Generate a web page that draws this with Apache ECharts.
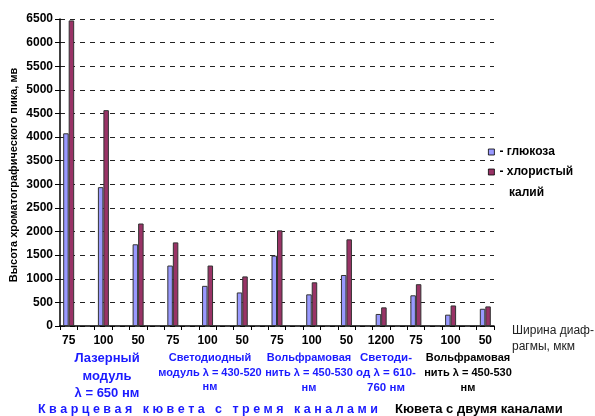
<!DOCTYPE html>
<html>
<head>
<meta charset="utf-8">
<script src="https://cdn.jsdelivr.net/npm/echarts@6/dist/echarts.min.js"></script>
<style>
html,body{margin:0;padding:0;background:#fff;}
#c{width:595px;height:416px;}
</style>
</head>
<body>
<div id="c"></div>
<script>
// Diaphragm widths (µm) for each measured configuration
var widths = ['75','100','50','75','100','50','75','100','50','1200','75','100','50'];
// Peak heights, mV
var glucose = [4080, 2940, 1730, 1280, 850, 710, 1490, 670, 1080, 255, 650, 240, 365];
var kcl     = [6470, 4570, 2170, 1770, 1280, 1050, 2025, 925, 1835, 395, 885, 435, 415];
var yTicks = {min: 0, max: 6500, interval: 500};

// Axis has a blank category between each measured one
var cats = [], gData = [], kData = [];
for (var i = 0; i < widths.length; i++) {
  cats.push(widths[i]); gData.push(glucose[i]); kData.push(kcl[i]);
  if (i < widths.length - 1) { cats.push(' '); gData.push('-'); kData.push('-'); }
}

var FF = '"Liberation Sans", Arial, sans-serif';
var BLUE = '#1a1aff';

var chart = echarts.init(document.getElementById('c'), null, {renderer: 'canvas'});
chart.setOption({
  animation: false,
  backgroundColor: '#fff',
  grid: {left: 60, right: 101, top: 19, bottom: 90, containLabel: false, outerBoundsMode: 'none'},
  legend: {
    orient: 'vertical', left: 483, top: 141,
    itemWidth: 6, itemHeight: 6, itemGap: 8,
    icon: 'rect',
    itemStyle: {borderColor: '#000', borderWidth: 0.8},
    textStyle: {fontFamily: FF, fontWeight: 'bold', fontSize: 12, color: '#000'},
    formatter: function (n) { return n === 'хлористый калий' ? '- хлористый' : '- ' + n; },
    selectedMode: false
  },
  xAxis: {
    type: 'category', data: cats, boundaryGap: true,
    axisLine: {lineStyle: {color: '#000', width: 1.5}},
    axisTick: {show: true, interval: 0, length: 4, lineStyle: {color: '#000', width: 1}},
    axisLabel: {interval: 0, margin: 9, fontFamily: FF, fontWeight: 'bold', fontSize: 12, color: '#000'},
    splitLine: {show: false}
  },
  yAxis: {
    type: 'value', min: yTicks.min, max: yTicks.max, interval: yTicks.interval,
    axisLine: {show: true, lineStyle: {color: '#000', width: 1.5}},
    axisTick: {show: true, length: 5, lineStyle: {color: '#000'}},
    axisLabel: {margin: 7, fontFamily: FF, fontWeight: 'bold', fontSize: 12, color: '#000',
                formatter: function (v) { return String(v); }},
    splitLine: {show: true, lineStyle: {color: '#222', width: 1, type: [5, 5]}}
  },
  series: [
    {name: 'глюкоза', type: 'bar', data: gData, barWidth: 5.5, barGap: '0%',
     itemStyle: {color: '#9999ff', borderColor: '#333', borderWidth: 1}},
    {name: 'хлористый калий', type: 'bar', data: kData, barWidth: 5.5, barGap: '0%',
     itemStyle: {color: '#993366', borderColor: '#333', borderWidth: 1}}
  ],
  graphic: [
    {type: 'text', x: 14, y: 175, rotation: Math.PI / 2,
     style: {text: 'Высота хроматографического пика, мв', font: 'bold 11px ' + FF, fill: '#000', align: 'center', verticalAlign: 'middle'}},
    {type: 'text', left: 509, top: 187, style: {text: 'калий', font: 'bold 12px ' + FF, fill: '#000'}},
    {type: 'text', left: 512, top: 323, style: {text: 'Ширина диаф-\nрагмы, мкм', font: '12px ' + FF, fill: '#222', lineHeight: 16}},
    {type: 'text', x: 107, y: 350, style: {text: 'Лазерный\nмодуль\nλ = 650 нм', font: 'bold 13px ' + FF, fill: BLUE, align: 'center', lineHeight: 17.5}},
    {type: 'text', x: 210, y: 351, style: {text: 'Светодиодный\nмодуль λ = 430-520\nнм', font: 'bold 11px ' + FF, fill: BLUE, align: 'center', lineHeight: 14.5}},
    {type: 'text', x: 309, y: 350, style: {text: 'Вольфрамовая\nнить λ = 450-530\nнм', font: 'bold 11px ' + FF, fill: BLUE, align: 'center', lineHeight: 15}},
    {type: 'text', x: 386, y: 350, style: {text: 'Светоди-\nод λ = 610-\n760 нм', font: 'bold 11.5px ' + FF, fill: BLUE, align: 'center', lineHeight: 15}},
    {type: 'text', x: 468, y: 350, style: {text: 'Вольфрамовая\nнить λ = 450-530\nнм', font: 'bold 11px ' + FF, fill: '#000', align: 'center', lineHeight: 15}},
    {type: 'text', left: 38, top: 403, style: {text: 'К в а р ц е в а я   к ю в е т а   с   т р е м я   к а н а л а м и', font: 'bold 12.5px ' + FF, fill: BLUE}},
    {type: 'text', left: 395, top: 403, style: {text: 'Кювета с двумя каналами', font: 'bold 13px ' + FF, fill: '#000'}}
  ]
});
</script>
</body>
</html>
